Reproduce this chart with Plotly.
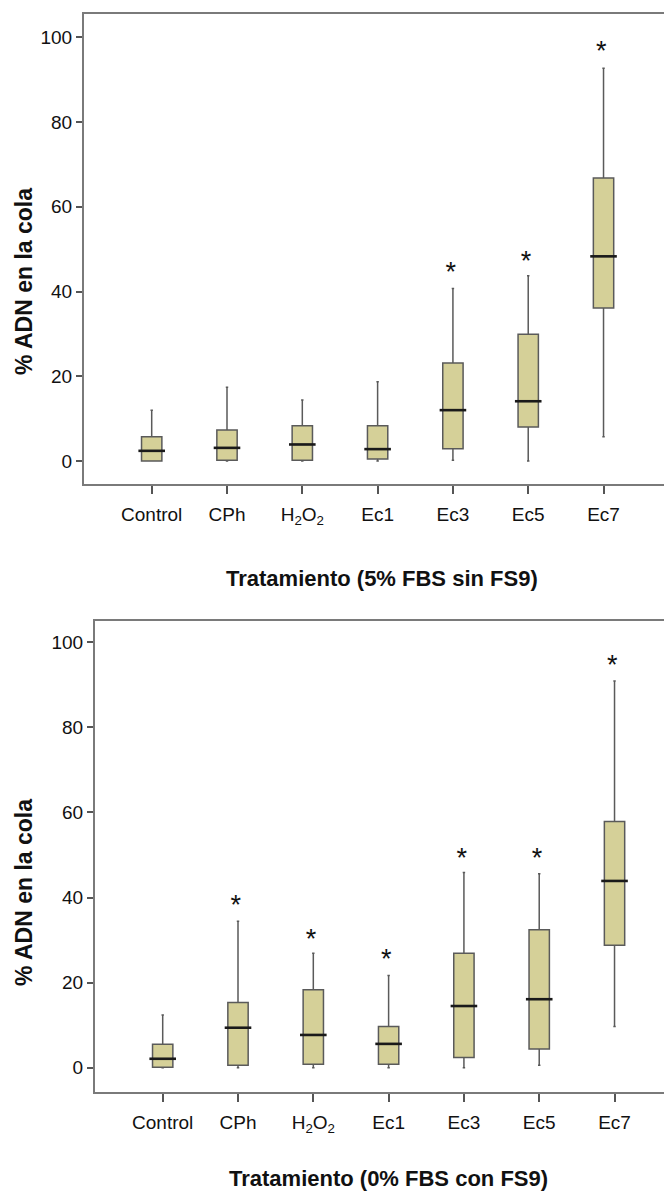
import plotly.graph_objects as go

W, H = 664, 1193

categories = ["Control", "CPh", "H<sub>2</sub>O<sub>2</sub>", "Ec1", "Ec3", "Ec5", "Ec7"]
positions = [0, 1, 2, 3, 4, 5, 6]

# Panel A: 5% FBS sin FS9
a_min = [0.0, 0.0, 0.0, 0.0, 0.2, 0.0, 5.7]
a_q1 = [0.0, 0.2, 0.2, 0.5, 2.9, 8.0, 36.1]
a_med = [2.4, 3.1, 3.9, 2.8, 12.0, 14.1, 48.3]
a_q3 = [5.7, 7.3, 8.3, 8.3, 23.1, 29.9, 66.8]
a_max = [12.0, 17.4, 14.4, 18.7, 40.7, 43.7, 92.7]
a_star_x = [4, 5, 6]
a_star_y = [44.0, 46.6, 96.2]

# Panel B: 0% FBS con FS9
b_min = [0.0, 0.0, 0.0, 0.0, 0.0, 0.6, 9.7]
b_q1 = [0.1, 0.6, 0.8, 0.8, 2.4, 4.4, 28.8]
b_med = [2.1, 9.4, 7.7, 5.6, 14.5, 16.1, 43.9]
b_q3 = [5.5, 15.3, 18.3, 9.7, 26.9, 32.4, 57.9]
b_max = [12.4, 34.4, 26.9, 21.7, 45.9, 45.6, 90.9]
b_star_x = [1, 2, 3, 4, 5, 6]
b_star_y = [37.8, 29.8, 25.1, 48.8, 48.8, 94.2]

y_ticks = [0, 20, 40, 60, 80, 100]

FILL = "#D5D098"
EDGE = "#5a5a5a"
FONT = "Liberation Sans, Arial, sans-serif"

fig = go.Figure()

def add_panel(suffix, mn, q1, med, q3, mx, sx, sy):
    xa = "x" + suffix
    ya = "y" + suffix
    fig.add_trace(go.Box(
        x=positions, lowerfence=mn, q1=q1, median=med, q3=q3, upperfence=mx,
        xaxis=xa, yaxis=ya, width=0.27, whiskerwidth=0.12,
        fillcolor=FILL, line=dict(color=EDGE, width=1.5),
        boxpoints=False, showlegend=False, hoverinfo="skip",
    ))
    # darker median bars
    fig.add_trace(go.Scatter(
        x=positions, y=med, xaxis=xa, yaxis=ya, mode="markers",
        marker=dict(symbol="line-ew", size=19, line=dict(color="#1a1a1a", width=2.6)),
        showlegend=False, hoverinfo="skip",
    ))
    fig.add_trace(go.Scatter(
        x=[v - 0.03 for v in sx], y=sy, xaxis=xa, yaxis=ya, mode="text",
        text=["*"] * len(sx), textposition="middle center",
        textfont=dict(family=FONT, size=27, color="#111"),
        showlegend=False, hoverinfo="skip",
    ))

add_panel("", a_min, a_q1, a_med, a_q3, a_max, a_star_x, a_star_y)
add_panel("2", b_min, b_q1, b_med, b_q3, b_max, b_star_x, b_star_y)

LINE = "#7a7a7a"

def xaxis_cfg(domain, rng):
    return dict(
        domain=domain, range=rng, tickmode="array", tickvals=positions, ticktext=categories,
        showline=True, linecolor=LINE, linewidth=2, mirror=True,
        ticks="outside", ticklen=8, tickwidth=2, tickcolor="#555",
        ticklabelstandoff=4,
        showgrid=False, zeroline=False,
        tickfont=dict(family=FONT, size=19, color="#111"),
    )

def yaxis_cfg(domain, rng, anchor):
    return dict(
        domain=domain, range=rng, tickmode="array", tickvals=y_ticks,
        showline=True, linecolor=LINE, linewidth=2, mirror=False,
        ticks="outside", ticklen=6, tickwidth=2, tickcolor="#555",
        showgrid=False, zeroline=False, anchor=anchor,
        tickfont=dict(family=FONT, size=19, color="#111"),
    )

fig.update_layout(
    width=W, height=H, autosize=False,
    margin=dict(l=0, r=0, t=0, b=0),
    paper_bgcolor="white", plot_bgcolor="white",
    xaxis=xaxis_cfg([84 / W, 1.0], [-0.899, 6.803]) | dict(anchor="y"),
    yaxis=yaxis_cfg([1 - 484 / H, 1 - 14 / H], [-5.43, 105.5], "x"),
    xaxis2=xaxis_cfg([95 / W, 1.0], [-0.899, 6.657]) | dict(anchor="y2"),
    yaxis2=yaxis_cfg([1 - 1092 / H, 1 - 621 / H], [-5.71, 105.0], "x2"),
)

title_font = dict(family=FONT, size=22, color="#111")
ytitle_font = dict(family=FONT, size=23, color="#111")
annos = [
    dict(text="<b>Tratamiento (5% FBS sin FS9)</b>", x=382 / W, y=1 - 578 / H, font=title_font),
    dict(text="<b>Tratamiento (0% FBS con FS9)</b>", x=388 / W, y=1 - 1178 / H, font=title_font),
    dict(text="<b>% ADN en la cola</b>", x=24 / W, y=1 - 282 / H, textangle=-90, font=ytitle_font),
    dict(text="<b>% ADN en la cola</b>", x=24 / W, y=1 - 893 / H, textangle=-90, font=ytitle_font),
]
for a in annos:
    fig.add_annotation(xref="paper", yref="paper", xanchor="center", yanchor="middle",
                       showarrow=False, **a)

fig.write_html("out.html")
